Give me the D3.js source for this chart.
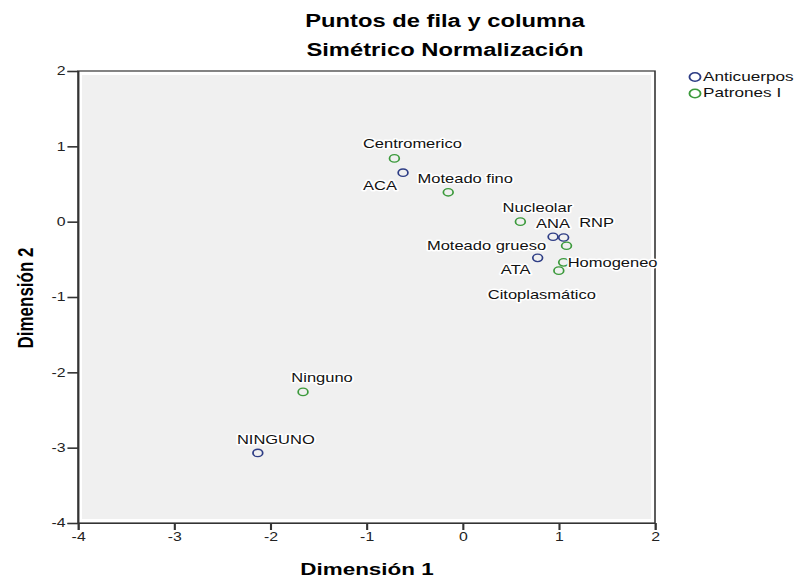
<!DOCTYPE html>
<html><head><meta charset="utf-8">
<script src="https://cdn.jsdelivr.net/npm/d3@7"></script>
<style>body{margin:0;background:#fff}svg{display:block;font-family:Arial,"Liberation Sans",sans-serif}</style>
</head><body>
<svg id="c" width="803" height="577"></svg>
<script>
// Data
const labels = ["Centromerico","ACA","Moteado fino","Nucleolar","ANA","RNP","Moteado grueso","ATA","Homogeneo","Citoplasmático","Ninguno","NINGUNO"];
const groups = ["Patrones I","Anticuerpos","Patrones I","Patrones I","Anticuerpos","Anticuerpos","Patrones I","Anticuerpos","Patrones I","Patrones I","Patrones I","Anticuerpos"];
const dim1 = [-0.71,-0.62,-0.15,0.60,0.94,1.05,1.08,0.78,1.05,1.00,-1.66,-2.13];
const dim2 = [0.84,0.65,0.39,0.00,-0.20,-0.21,-0.32,-0.48,-0.54,-0.65,-2.26,-3.07];
const ticks = [-4,-3,-2,-1,0,1,2];
const legendItems = ["Anticuerpos","Patrones I"];
// Layout: label offsets (final px) relative to point: [dx center, dy baseline]
const labelOffsets = [[18,-10],[-23,17],[17,-9],[17,-10],[0,-9],[33,-10],[-80,4],[-22,16],[49,5],[-17,28],[19,-10],[18,-9]];

const SX = 1.32; // horizontal stretch of the original picture
const colors = {"Anticuerpos":"#2e3d85","Patrones I":"#3c9a3c"};
const svg = d3.select("#c");
const g = svg.append("g").attr("transform",`scale(${SX},1)`);
const x = d3.scaleLinear().domain([-4,2]).range([78/SX,655/SX]);
const y = d3.scaleLinear().domain([-4,2]).range([523,71]);

// background fill
g.append("rect").attr("x",x(-4)+4/SX).attr("y",y(2)+4)
  .attr("width",x(2)-x(-4)-8/SX).attr("height",y(-4)-y(2)-8).attr("fill","#f0f0f0");
// frame
g.append("rect").attr("x",x(-4)).attr("y",y(2)).attr("width",x(2)-x(-4)).attr("height",y(-4)-y(2))
  .attr("fill","none").attr("stroke","#333").attr("stroke-width",1.2);

const fmt = d => String(d);
const xAxis = g.append("g").attr("transform",`translate(0,${y(-4)})`)
  .call(d3.axisBottom(x).tickValues(ticks).tickSize(7).tickPadding(2).tickFormat(fmt));
const yAxis = g.append("g").attr("transform",`translate(${x(-4)},0)`)
  .call(d3.axisLeft(y).tickValues(ticks).tickSize(8).tickPadding(1.5).tickFormat(fmt));
[xAxis,yAxis].forEach(a=>{
  a.select(".domain").attr("stroke","#333").attr("stroke-width",1.2);
  a.selectAll(".tick line").attr("stroke","#333").attr("stroke-width",1.6);
  a.selectAll(".tick text").attr("font-size",12).attr("fill","#222").attr("font-family","Arial, Liberation Sans, sans-serif");
});
xAxis.selectAll(".tick text").attr("dy","0.75em");

// titles
g.append("text").attr("x",445/SX).attr("y",27).attr("text-anchor","middle").attr("font-size",18).attr("font-weight","bold").text("Puntos de fila y columna");
g.append("text").attr("x",445/SX).attr("y",56).attr("text-anchor","middle").attr("font-size",18).attr("font-weight","bold").text("Simétrico Normalización");
g.append("text").attr("x",367/SX).attr("y",575).attr("text-anchor","middle").attr("font-size",17).attr("font-weight","bold").text("Dimensión 1");
g.append("text").attr("transform",`translate(${33/SX},298) rotate(-90)`).attr("text-anchor","middle").attr("font-size",17).attr("font-weight","bold").text("Dimensión 2");

// points
const data = labels.map((l,i)=>({label:l,g:groups[i],x:dim1[i],y:dim2[i],off:labelOffsets[i]}));
g.append("g").selectAll("circle").data(data).join("circle")
  .attr("cx",d=>x(d.x)).attr("cy",d=>y(d.y)).attr("r",3.7)
  .attr("fill","none").attr("stroke",d=>colors[d.g]).attr("stroke-width",1.3);
g.append("g").selectAll("text").data(data).join("text")
  .attr("x",d=>x(d.x)+d.off[0]/SX).attr("y",d=>y(d.y)+d.off[1])
  .attr("text-anchor","middle").attr("font-size",12.5).attr("fill","#111")
  .attr("stroke","#fff").attr("stroke-width",3).attr("paint-order","stroke").attr("stroke-linejoin","round")
  .text(d=>d.label);

// legend
const lg = g.append("g");
legendItems.forEach((k,i)=>{
  lg.append("circle").attr("cx",695/SX).attr("cy",77+i*16.5).attr("r",4.2).attr("fill","none").attr("stroke",colors[k]).attr("stroke-width",1.4);
  lg.append("text").attr("x",703/SX).attr("y",81+i*16.5).attr("font-size",13).attr("fill","#111").text(k);
});
</script>
</body></html>
